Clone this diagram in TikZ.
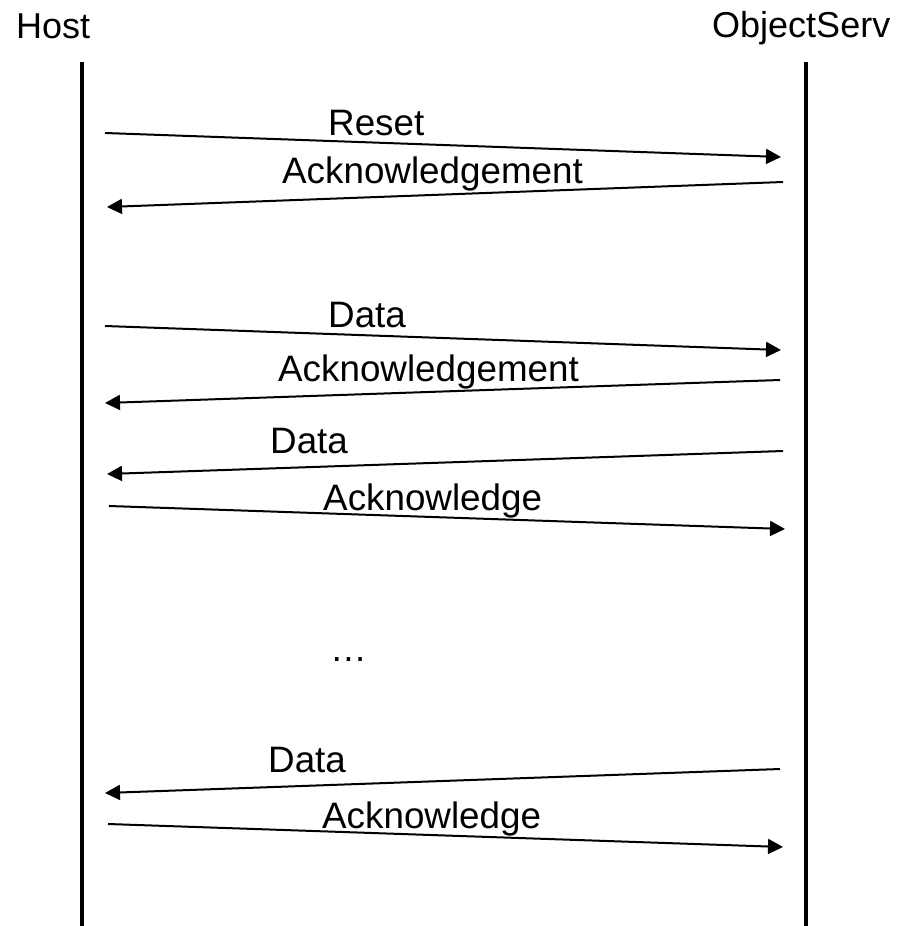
\documentclass[tikz,border=0pt]{standalone}
\usepackage{fontspec}
\setmainfont{Liberation Sans}
\usetikzlibrary{arrows.meta}
\begin{document}
\begin{tikzpicture}[x=1pt,y=-1pt,
  lbl/.style={anchor=base west,inner sep=0pt,font=\fontsize{36}{40}\selectfont},
  mlbl/.style={anchor=base west,inner sep=0pt,font=\fontsize{36.8}{40}\selectfont},
  life/.style={line width=3.5pt},
  msg/.style={line width=2pt,-{Triangle[length=15pt,width=15pt]}}]
\useasboundingbox[fill=white] (0,0) rectangle (904,926);
% titles
\node[lbl] (host) at (16,38) {Host};
\node[lbl] (serv) at (712,37) {ObjectServ};
% lifelines
\coordinate (hTop) at (82,62);
\coordinate (hBot) at (82,926);
\coordinate (sTop) at (806,62);
\coordinate (sBot) at (806,926);
\draw[life] (hTop) -- (hBot);
\draw[life] (sTop) -- (sBot);
% message endpoints
\coordinate (a1) at (105,133); \coordinate (b1) at (781,157);
\coordinate (a2) at (783,182); \coordinate (b2) at (107,207);
\coordinate (a3) at (105,326); \coordinate (b3) at (781,350);
\coordinate (a4) at (780,380); \coordinate (b4) at (105,403);
\coordinate (a5) at (783,451); \coordinate (b5) at (107,474);
\coordinate (a6) at (109,506); \coordinate (b6) at (785,529);
\coordinate (a8) at (780,769); \coordinate (b8) at (105,793);
\coordinate (a9) at (108,824); \coordinate (b9) at (783,847);
\draw[msg] (a1) -- (b1);
\draw[msg] (a2) -- (b2);
\draw[msg] (a3) -- (b3);
\draw[msg] (a4) -- (b4);
\draw[msg] (a5) -- (b5);
\draw[msg] (a6) -- (b6);
\draw[msg] (a8) -- (b8);
\draw[msg] (a9) -- (b9);
% labels
\node[mlbl] (t1) at (328,135) {Reset};
\node[mlbl] (t2) at (282,183) {Acknowledgement};
\node[mlbl] (t3) at (328,327) {Data};
\node[mlbl] (t4) at (278,381) {Acknowledgement};
\node[mlbl] (t5) at (270,453) {Data};
\node[mlbl] (t6) at (323,510) {Acknowledge};
\node[mlbl] (t7) at (330,661) {…};
\node[mlbl] (t8) at (268,772) {Data};
\node[mlbl] (t9) at (322,828) {Acknowledge};
\end{tikzpicture}
\end{document}
